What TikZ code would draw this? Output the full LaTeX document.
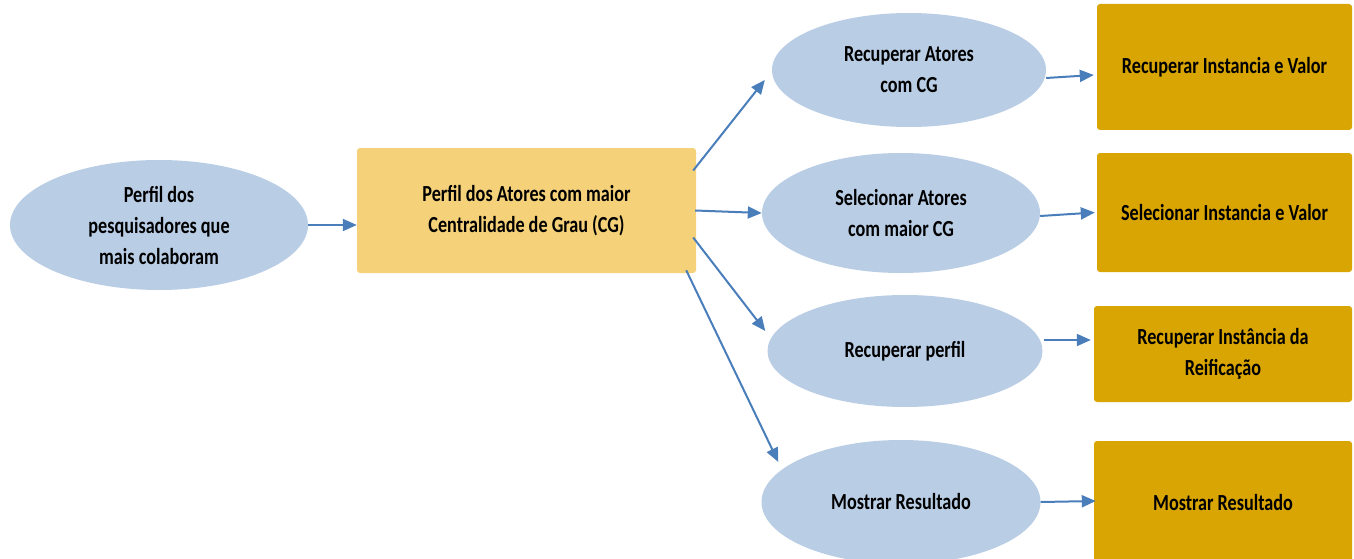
\documentclass[tikz,border=0pt]{standalone}
\usepackage{fontspec}
\setmainfont{Carlito}[FakeStretch=0.79]
\usetikzlibrary{arrows.meta,shapes.geometric}
\definecolor{ellblue}{HTML}{B9CDE5}
\definecolor{lightgold}{HTML}{F5D27A}
\definecolor{darkgold}{HTML}{D9A502}
\definecolor{arrowblue}{HTML}{4A7EBB}
\begin{document}
\begin{tikzpicture}[x=1pt,y=-1pt,
 txt/.style={font=\fontsize{23}{31}\selectfont\bfseries, align=center, text=black},
 ell/.style={ellipse, fill=ellblue, inner sep=0pt, txt},
 box/.style={rectangle, rounded corners=3pt, inner sep=0pt, txt},
 conn/.style={draw=arrowblue, line width=2pt, -{Triangle[length=14pt,width=12pt]}}]
\useasboundingbox (0,0) rectangle (1354,559);
\node[ell, minimum width=298pt, minimum height=130pt] (e1) at (159,225) {Perfil dos\\pesquisadores que\\mais colaboram};
\node[box, fill=lightgold, minimum width=339pt, minimum height=125pt] (r0) at (526.5,210.5) {Perfil dos Atores com maior\\Centralidade de Grau (CG)};
\node[ell, minimum width=274pt, minimum height=114pt] (e2) at (909,70) {Recuperar Atores\\com CG};
\node[ell, minimum width=278pt, minimum height=120pt] (e3) at (901,213) {Selecionar Atores\\com maior CG};
\node[ell, minimum width=275pt, minimum height=112pt] (e4) at (905,351) {Recuperar perfil};
\node[ell, minimum width=279pt, minimum height=124pt] (e5) at (901,502) {Mostrar Resultado};
\node[box, fill=darkgold, minimum width=255pt, minimum height=126pt] (r1) at (1224.5,67) {Recuperar Instancia e Valor};
\node[box, fill=darkgold, minimum width=255pt, minimum height=119pt] (r2) at (1224.5,212.5) {Selecionar Instancia e Valor};
\node[box, fill=darkgold, minimum width=258pt, minimum height=96pt] (r3) at (1223,354) {Recuperar Instância da\\Reificação};
\node[box, fill=darkgold, minimum width=258pt, minimum height=124pt] (r4) at (1223,503) {Mostrar Resultado};
\draw[conn] (e1.east) -- (e1.east -| r0.west);
\draw[conn] ([shift={(-3,-40)}]r0.east) -- ([shift={(-7,10)}]e2.west);
\draw[conn] ([xshift=-1pt]r0.east) -- (e3.west);
\draw[conn] ([shift={(-3,27)}]r0.east) -- ([shift={(-2,-20)}]e4.west);
\draw[conn] ([shift={(-10,-3)}]r0.south east) -- ([shift={(17,-40)}]e5.west);
\draw[conn] ([shift={(0,8)}]e2.east) -- ([shift={(-3,8)}]r1.west);
\draw[conn] ([shift={(0,3)}]e3.east) -- ([shift={(-2,0)}]r2.west);
\draw[conn] ([shift={(1,-11)}]e4.east) -- ([shift={(-3,-14)}]r3.west);
\draw[conn] (e5.east) -- ([shift={(2,-2)}]r4.west);
\end{tikzpicture}
\end{document}
